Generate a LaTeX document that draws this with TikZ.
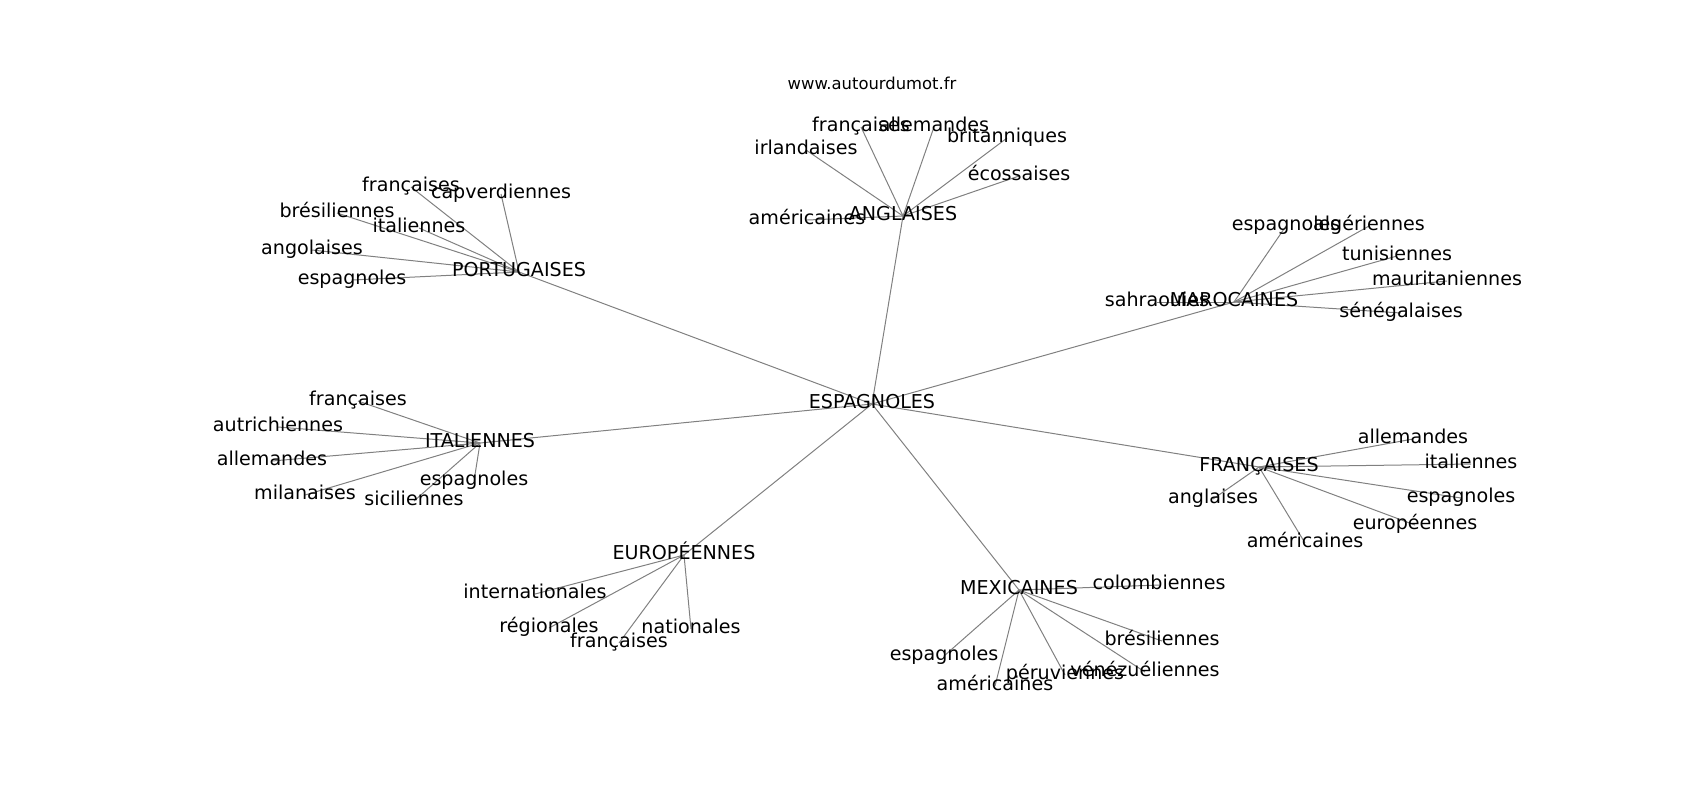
\documentclass[tikz,border=0pt]{standalone}
\usepackage{fontspec}
\setmainfont{DejaVu Sans}
\usetikzlibrary{backgrounds}

\tikzset{
	word/.style={inner sep=0pt, text height=0.73em, text depth=0.24em, font=\fontsize{9.55pt}{11pt}\selectfont},
	link/.style={draw=black!50, line width=0.5pt},
}

\begin{document}
\begin{tikzpicture}[x=0.5pt, y=-0.5pt]
	\useasboundingbox (0,0) rectangle (1700,800);
	\node[word, font=\fontsize{8.2pt}{10pt}\selectfont] (site) at (872,85) {www.autourdumot.fr};
	\node[word] (esp) at (872,404) {ESPAGNOLES};
	\node[word] (ang) at (903,216) {ANGLAISES};
	\node[word] (por) at (519,272) {PORTUGAISES};
	\node[word] (mar) at (1234,302) {MAROCAINES};
	\node[word] (ita) at (480,443) {ITALIENNES};
	\node[word] (fra) at (1259,467) {FRANÇAISES};
	\node[word] (eur) at (684,555) {EUROPÉENNES};
	\node[word] (mex) at (1019,590) {MEXICAINES};
	\node[word] (afr) at (861,127) {françaises};
	\node[word] (aal) at (934,127) {allemandes};
	\node[word] (air) at (806,150) {irlandaises};
	\node[word] (abr) at (1007,138) {britanniques};
	\node[word] (aec) at (1019,176) {écossaises};
	\node[word] (aam) at (807,220) {américaines};
	\node[word] (pfr) at (411,187) {françaises};
	\node[word] (pcv) at (501,194) {capverdiennes};
	\node[word] (pbr) at (337,213) {brésiliennes};
	\node[word] (pit) at (419,228) {italiennes};
	\node[word] (pan) at (312,250) {angolaises};
	\node[word] (pes) at (352,280) {espagnoles};
	\node[word] (msa) at (1157,302) {sahraouies};
	\node[word] (mes) at (1286,226) {espagnoles};
	\node[word] (mal) at (1369,226) {algériennes};
	\node[word] (mtu) at (1397,256) {tunisiennes};
	\node[word] (mma) at (1447,281) {mauritaniennes};
	\node[word] (mse) at (1401,313) {sénégalaises};
	\node[word] (ifr) at (358,401) {françaises};
	\node[word] (iau) at (278,427) {autrichiennes};
	\node[word] (ial) at (272,461) {allemandes};
	\node[word] (imi) at (305,495) {milanaises};
	\node[word] (ies) at (474,481) {espagnoles};
	\node[word] (isi) at (414,501) {siciliennes};
	\node[word] (fal) at (1413,439) {allemandes};
	\node[word] (fit) at (1471,464) {italiennes};
	\node[word] (fes) at (1461,498) {espagnoles};
	\node[word] (feu) at (1415,525) {européennes};
	\node[word] (fan) at (1213,499) {anglaises};
	\node[word] (fam) at (1305,543) {américaines};
	\node[word] (ein) at (535,594) {internationales};
	\node[word] (ere) at (549,628) {régionales};
	\node[word] (ena) at (691,629) {nationales};
	\node[word] (efr) at (619,643) {françaises};
	\node[word] (xco) at (1159,585) {colombiennes};
	\node[word] (xbr) at (1162,641) {brésiliennes};
	\node[word] (xve) at (1145,672) {vénézuéliennes};
	\node[word] (xpe) at (1065,675) {péruviennes};
	\node[word] (xes) at (944,656) {espagnoles};
	\node[word] (xam) at (995,686) {américaines};
	\begin{scope}[on background layer]
	\draw[link] (esp.center) -- (ang.center);
	\draw[link] (esp.center) -- (por.center);
	\draw[link] (esp.center) -- (mar.center);
	\draw[link] (esp.center) -- (ita.center);
	\draw[link] (esp.center) -- (fra.center);
	\draw[link] (esp.center) -- (eur.center);
	\draw[link] (esp.center) -- (mex.center);
	\draw[link] (ang.center) -- (afr.center);
	\draw[link] (ang.center) -- (aal.center);
	\draw[link] (ang.center) -- (air.center);
	\draw[link] (ang.center) -- (abr.center);
	\draw[link] (ang.center) -- (aec.center);
	\draw[link] (ang.center) -- (aam.center);
	\draw[link] (por.center) -- (pfr.center);
	\draw[link] (por.center) -- (pcv.center);
	\draw[link] (por.center) -- (pbr.center);
	\draw[link] (por.center) -- (pit.center);
	\draw[link] (por.center) -- (pan.center);
	\draw[link] (por.center) -- (pes.center);
	\draw[link] (mar.center) -- (msa.center);
	\draw[link] (mar.center) -- (mes.center);
	\draw[link] (mar.center) -- (mal.center);
	\draw[link] (mar.center) -- (mtu.center);
	\draw[link] (mar.center) -- (mma.center);
	\draw[link] (mar.center) -- (mse.center);
	\draw[link] (ita.center) -- (ifr.center);
	\draw[link] (ita.center) -- (iau.center);
	\draw[link] (ita.center) -- (ial.center);
	\draw[link] (ita.center) -- (imi.center);
	\draw[link] (ita.center) -- (ies.center);
	\draw[link] (ita.center) -- (isi.center);
	\draw[link] (fra.center) -- (fal.center);
	\draw[link] (fra.center) -- (fit.center);
	\draw[link] (fra.center) -- (fes.center);
	\draw[link] (fra.center) -- (feu.center);
	\draw[link] (fra.center) -- (fan.center);
	\draw[link] (fra.center) -- (fam.center);
	\draw[link] (eur.center) -- (ein.center);
	\draw[link] (eur.center) -- (ere.center);
	\draw[link] (eur.center) -- (ena.center);
	\draw[link] (eur.center) -- (efr.center);
	\draw[link] (mex.center) -- (xco.center);
	\draw[link] (mex.center) -- (xbr.center);
	\draw[link] (mex.center) -- (xve.center);
	\draw[link] (mex.center) -- (xpe.center);
	\draw[link] (mex.center) -- (xes.center);
	\draw[link] (mex.center) -- (xam.center);
	\end{scope}
\end{tikzpicture}
\end{document}
